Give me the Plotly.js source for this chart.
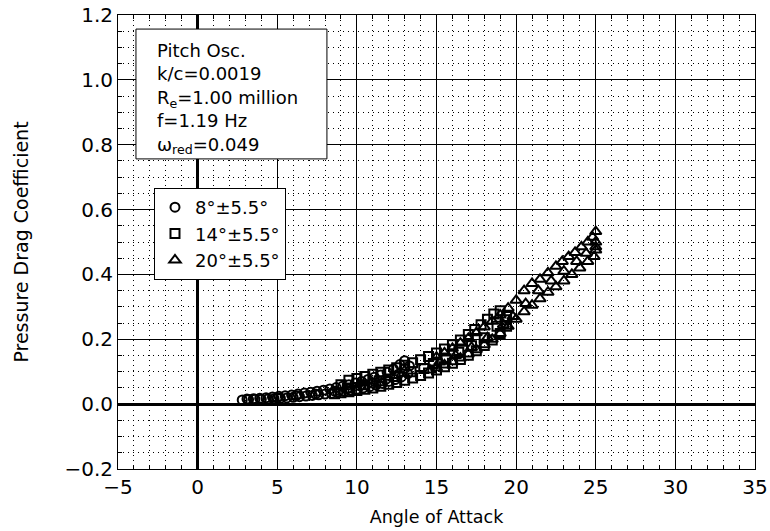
<!DOCTYPE html>
<html>
<head>
<meta charset="utf-8">
<script src="https://cdn.plot.ly/plotly-3.0.1.min.js"></script>
<style>html,body{margin:0;padding:0;background:#fff;}#chart{width:770px;height:531px;}</style>
</head>
<body>
<div id="chart"></div>
<script>
// ---- data ----
var seriesNames = ["8°±5.5°", "14°±5.5°", "20°±5.5°"];

// 8° ± 5.5° (circles): up-stroke, down-stroke, then points inside the band
var alpha8 = [2.8,3.2,3.6,4.0,4.4,4.8,5.2,5.6,6.0,6.4,6.8,7.2,7.6,8.0,8.4,8.8,9.2,9.6,10.0,10.4,10.8,11.2,11.6,12.0,12.4,12.8,13.2,
              13.3,13.0,12.7,12.3,11.9,11.5,11.1,10.7,10.3,9.9,9.5,9.1,8.7,8.3,7.9,7.5,7.1,6.7,6.3,5.9,5.5,5.1,4.7,4.3,3.9,3.5,3.1,
              5.0,6.2,7.4,8.6,9.4,10.2,11.0,11.8,12.6,13.0];
var cd8 =    [0.013,0.014,0.015,0.015,0.016,0.017,0.018,0.019,0.021,0.023,0.025,0.027,0.029,0.031,0.033,0.036,0.039,0.042,0.046,0.050,0.054,0.059,0.064,0.070,0.076,0.084,0.094,
              0.118,0.134,0.122,0.108,0.098,0.090,0.083,0.076,0.070,0.065,0.060,0.055,0.051,0.047,0.043,0.040,0.037,0.034,0.031,0.028,0.026,0.024,0.022,0.020,0.018,0.017,0.016,
              0.020,0.026,0.031,0.040,0.048,0.056,0.065,0.076,0.092,0.110];

// 14° ± 5.5° (squares)
var alpha14 = [8.6,9.0,9.5,10.0,10.5,11.0,11.5,12.0,12.5,13.0,13.5,14.0,14.5,15.0,15.5,16.0,16.5,17.0,17.5,18.0,18.5,19.0,19.4,
               19.4,19.0,18.6,18.2,17.8,17.4,17.0,16.5,16.0,15.5,15.0,14.5,14.0,13.5,13.0,12.5,12.0,11.5,11.0,10.5,10.0,9.5,9.0,
               9.4,10.4,11.4,12.4,13.4,14.2,14.8,15.6,16.4,17.2,18.0,18.8,19.3];
var cd14 =    [0.032,0.035,0.038,0.042,0.046,0.050,0.055,0.061,0.067,0.074,0.081,0.088,0.096,0.105,0.115,0.126,0.138,0.151,0.165,0.181,0.198,0.218,0.240,
               0.270,0.288,0.278,0.262,0.245,0.230,0.215,0.198,0.183,0.170,0.158,0.147,0.137,0.128,0.120,0.112,0.105,0.098,0.092,0.085,0.079,0.074,0.060,
               0.050,0.060,0.072,0.085,0.100,0.110,0.125,0.140,0.160,0.180,0.205,0.240,0.260];

// 20° ± 5.5° (triangles)
var alpha20 = [14.6,15.0,15.5,16.0,16.5,17.0,17.5,18.0,18.5,19.0,19.5,20.0,20.5,21.0,21.5,22.0,22.5,23.0,23.5,24.0,24.5,24.9,25.0,25.0,25.0,
               24.8,24.5,24.1,23.7,23.3,22.9,22.5,22.0,21.5,21.0,20.5,20.0,19.5,19.0,18.5,18.0,17.5,17.0,16.5,16.0,15.5,15.0,
               15.2,16.2,17.2,18.2,19.2,19.8,20.6,21.4,22.2,23.0,23.8,24.4,25.0];
var cd20 =    [0.105,0.112,0.121,0.131,0.142,0.155,0.168,0.183,0.200,0.218,0.240,0.262,0.285,0.305,0.325,0.345,0.362,0.380,0.400,0.420,0.440,0.455,0.475,0.500,0.532,
               0.515,0.500,0.485,0.468,0.455,0.440,0.425,0.405,0.385,0.372,0.350,0.320,0.296,0.275,0.256,0.238,0.220,0.203,0.188,0.172,0.158,0.145,
               0.130,0.150,0.175,0.205,0.245,0.270,0.310,0.350,0.380,0.410,0.440,0.465,0.485];

var infoLines = ["Pitch Osc.", "k/c=0.0019", "R<sub>e</sub>=1.00 million", "f=1.19 Hz", "ω<sub>red</sub>=0.049"];

// ---- chart ----
var FONT = "DejaVu Sans";
function series(x, y, name, symbol, size) {
  return {
    x: x, y: y, name: name, type: "scatter", mode: "markers",
    marker: {symbol: symbol, size: size, color: "black", line: {color: "black", width: 2}},
    hoverinfo: "x+y"
  };
}
var traces = [
  series(alpha8, cd8, seriesNames[0], "circle-open", 9),
  series(alpha14, cd14, seriesNames[1], "square-open", 9),
  series(alpha20, cd20, seriesNames[2], "triangle-up-open", 10)
];

var axisCommon = {
  showline: true, linecolor: "black", linewidth: 1, mirror: "ticks",
  showgrid: true, gridcolor: "black", gridwidth: 1,
  zeroline: true, zerolinecolor: "black", zerolinewidth: 3,
  ticks: "", tickfont: {family: FONT, size: 20, color: "black"},
  minor: {showgrid: true, gridcolor: "black", gridwidth: 1, griddash: "1px,4px", ticks: "inside", ticklen: 4, tickcolor: "black"}
};

var layout = {
  width: 770, height: 531,
  margin: {l: 118, r: 15, t: 15, b: 62},
  paper_bgcolor: "white", plot_bgcolor: "white",
  font: {family: FONT, color: "black"},
  showlegend: true,
  legend: {
    x: 0.0565, y: 0.619, xanchor: "left", yanchor: "top",
    bgcolor: "white", bordercolor: "black", borderwidth: 1,
    font: {family: FONT, size: 18, color: "black"}
  },
  xaxis: Object.assign({}, axisCommon, {
    range: [-5, 35], dtick: 5, tick0: 0,
    minor: Object.assign({}, axisCommon.minor, {dtick: 1}),
    title: {text: "Angle of Attack", font: {family: FONT, size: 17.5, color: "black"}, standoff: 12}
  }),
  yaxis: Object.assign({}, axisCommon, {
    range: [-0.2, 1.2], dtick: 0.2, tick0: 0, tickformat: ".1f",
    minor: Object.assign({}, axisCommon.minor, {dtick: 0.05}),
    title: {text: "Pressure Drag Coefficient", font: {family: FONT, size: 19, color: "black"}, standoff: 30}
  }),
  shapes: [{
    type: "rect", xref: "paper", yref: "paper", layer: "above",
    x0: 0.0282, x1: 0.328, y0: 0.683, y1: 0.969,
    line: {color: "black", width: 1}, fillcolor: "white"
  }],
  annotations: [{
    xref: "paper", yref: "paper", x: 0.058, y: 0.816, xanchor: "left", yanchor: "middle",
    align: "left", showarrow: false,
    text: infoLines.join("<br>"),
    font: {family: FONT, size: 18, color: "black"}
  }]
};

Plotly.newPlot("chart", traces, layout, {displayModeBar: false, staticPlot: true});
</script>
</body>
</html>
